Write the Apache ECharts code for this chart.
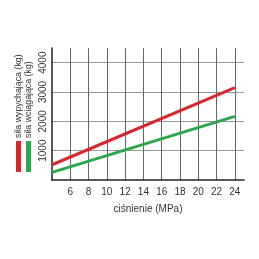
<!DOCTYPE html>
<html><head><meta charset="utf-8">
<script src="https://cdn.jsdelivr.net/npm/echarts@6/dist/echarts.min.js"></script>
<style>html,body{margin:0;padding:0;background:#fff}#c{width:259px;height:259px}</style>
</head><body><div id="c"></div>
<script>
const pressure = [4, 24];
const silaWypychajaca = [520, 3150];
const silaWciagajaca = [260, 2170];
const seriesNames = ['siła wypychająca (kg)', 'siła wciągająca (kg)'];
const seriesColors = ['#d8262d', '#2ca74b'];
const xTitle = 'ciśnienie (MPa)';

const chart = echarts.init(document.getElementById('c'), null, {renderer: 'canvas'});
const font = 'Liberation Sans, Arial, sans-serif';
function pts(vals){ return pressure.map((p,i)=>[p, vals[i]]); }
chart.setOption({
  animation: false,
  backgroundColor: '#fff',
  grid: {left: 52, right: 15, top: 48, bottom: 79},
  xAxis: {
    type: 'value', min: 4, max: 25, interval: 2,
    name: xTitle, nameLocation: 'middle', nameGap: 24,
    nameTextStyle: {fontFamily: font, fontSize: 10, color: '#333'},
    axisLine: {show: true, onZero: false, lineStyle: {color: '#222', width: 1.5}},
    axisTick: {show: false},
    axisLabel: {showMinLabel: false, showMaxLabel: false, fontFamily: font, fontSize: 10, color: '#333', margin: 7},
    splitLine: {show: true, showMinLine: false, showMaxLine: false, lineStyle: {color: '#666', width: 1}}
  },
  yAxis: {
    type: 'value', min: 0, max: 4500, interval: 1000,
    axisLine: {show: true, lineStyle: {color: '#222', width: 1.5}},
    axisTick: {show: false},
    axisLabel: {rotate: 90, showMinLabel: false, showMaxLabel: false, fontFamily: font, fontSize: 10, color: '#333', margin: 4,
      formatter: v => String(v)},
    splitLine: {show: true, showMinLine: false, showMaxLine: false, lineStyle: {color: '#999', width: 1}}
  },
  graphic: [
    {type: 'rect', shape: {x: 16, y: 141, width: 5, height: 31}, style: {fill: seriesColors[0]}},
    {type: 'rect', shape: {x: 26, y: 141, width: 5, height: 31}, style: {fill: seriesColors[1]}},
    {type: 'text', x: 18.5, y: 138, rotation: Math.PI/2, style: {text: seriesNames[0], fontFamily: font, fontSize: 8.8, fill: '#333', align: 'left', verticalAlign: 'middle'}},
    {type: 'text', x: 28.5, y: 138, rotation: Math.PI/2, style: {text: seriesNames[1], fontFamily: font, fontSize: 8.8, fill: '#333', align: 'left', verticalAlign: 'middle'}}
  ],
  series: [
    {name: seriesNames[0], type: 'line', data: pts(silaWypychajaca), showSymbol: false, lineStyle: {color: seriesColors[0], width: 3}, itemStyle: {color: seriesColors[0]}},
    {name: seriesNames[1], type: 'line', data: pts(silaWciagajaca), showSymbol: false, lineStyle: {color: seriesColors[1], width: 3}, itemStyle: {color: seriesColors[1]}}
  ]
});
</script></body></html>
